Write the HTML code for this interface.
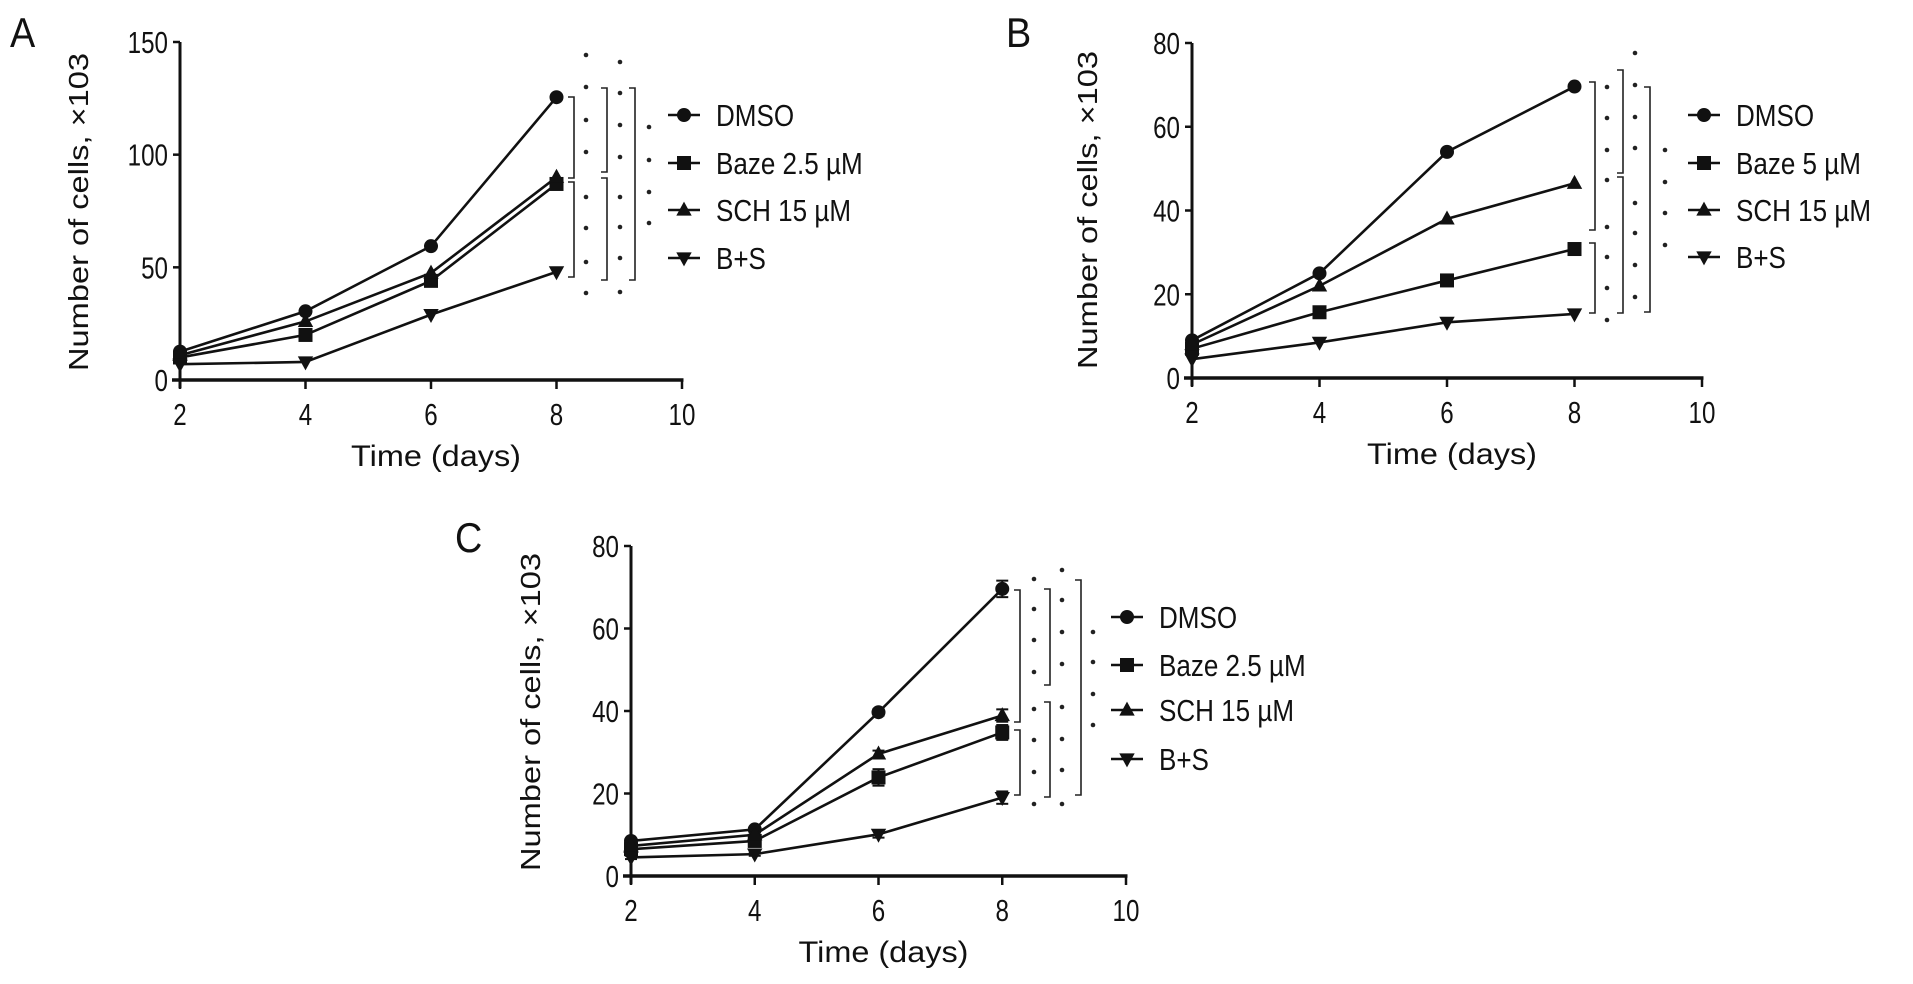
<!DOCTYPE html>
<html><head><meta charset="utf-8"><style>
html,body{margin:0;padding:0;background:#fff;}
svg{display:block;}
text{font-family:"Liberation Sans",Arial,sans-serif;fill:#111;}
</style></head><body>
<svg id="fig" width="1913" height="984" viewBox="0 0 1913 984" xmlns="http://www.w3.org/2000/svg"></svg>
<script>
const days = [2, 4, 6, 8];
const xTicks = [2, 4, 6, 8, 10];
const seriesNames = ["DMSO", "Baze", "SCH", "B+S"];
const markerTypes = ["circle", "square", "triangle-up", "triangle-down"];
// Panel A
const aDMSO = [12.6, 30.5, 59.4, 125.5];
const aBaze = [10, 20, 44, 87];
const aSCH = [11, 26, 47.5, 90];
const aBS = [7, 8, 29, 48];
const aYTicks = [0, 50, 100, 150];
const aLegend = ["DMSO", "Baze 2.5 \u00b5M", "SCH 15 \u00b5M", "B+S"];
// Panel B
const bDMSO = [9, 25, 54, 69.6];
const bBaze = [7, 15.7, 23.3, 30.8];
const bSCH = [8, 22, 38, 46.5];
const bBS = [4.5, 8.5, 13.3, 15.3];
const bYTicks = [0, 20, 40, 60, 80];
const bLegend = ["DMSO", "Baze 5 \u00b5M", "SCH 15 \u00b5M", "B+S"];
// Panel C
const cDMSO = [8.5, 11.3, 39.7, 69.6];
const cBaze = [6.5, 8.5, 23.9, 34.8];
const cSCH = [7.3, 10, 29.6, 38.9];
const cBS = [4.5, 5.3, 10.1, 19];
const cDMSOErr = [0.5, 0.5, 0.8, 2];
const cBazeErr = [0.5, 0.5, 2, 1.8];
const cSCHErr = [0.5, 0.5, 0.8, 1.5];
const cBSErr = [0.4, 0.4, 0.8, 1.5];
const cYTicks = [0, 20, 40, 60, 80];
const cLegend = ["DMSO", "Baze 2.5 \u00b5M", "SCH 15 \u00b5M", "B+S"];

const NS = "http://www.w3.org/2000/svg";
const svg = document.getElementById("fig");
function mk(tag, attrs, parent){
  const e = document.createElementNS(NS, tag);
  for (const k in attrs) e.setAttribute(k, attrs[k]);
  (parent || svg).appendChild(e);
  return e;
}
function txt(parent, x, y, str, size, anchor, sx){
  const t = mk("text", {x: 0, y: 0, "font-size": size, "text-anchor": anchor, transform: `translate(${x},${y}) scale(${sx},1)`}, parent);
  t.textContent = str;
  return t;
}
function marker(g, type, cx, cy, s){
  let e;
  if (type === "circle") e = mk("circle", {cx: cx, cy: cy, r: s}, g);
  else if (type === "square") e = mk("rect", {x: cx - s, y: cy - s, width: 2*s, height: 2*s}, g);
  else if (type === "triangle-up") e = mk("polygon", {points: `${cx},${cy-s*1.2} ${cx-s*1.1},${cy+s*0.8} ${cx+s*1.1},${cy+s*0.8}`}, g);
  else e = mk("polygon", {points: `${cx},${cy+s*1.2} ${cx-s*1.1},${cy-s*0.8} ${cx+s*1.1},${cy-s*0.8}`}, g);
  e.setAttribute("fill", "#111");
  return e;
}

function panel(p){
  const g = mk("g", {});
  
  
  const xs = v => p.x0 + (v - 2) / 8 * (p.x1 - p.x0);
  const ys = v => p.y0 - v / p.yMax * (p.y0 - p.yTop);

  const lab = txt(g, p.labX, p.labY, p.id, 42, "start", 0.9);
  
  

  const yAx = mk("line", {x1: p.x0, y1: p.yTop, x2: p.x0, y2: p.y0 + 8, stroke: "#111", "stroke-width": 3}, g);
  
  
  const xAx = mk("line", {x1: p.x0 - 8, y1: p.y0, x2: p.x1 + 1.5, y2: p.y0, stroke: "#111", "stroke-width": 3.5}, g);
  
  

  p.yTicks.forEach(v => {
    const y = ys(v);
    mk("line", {x1: p.x0 - 7, y1: y, x2: p.x0, y2: y, stroke: "#111", "stroke-width": 2.5}, g);
    const t = txt(g, p.x0 - 12, y + 11, String(v), 31, "end", 0.78);
    
    
  });
  xTicks.forEach(v => {
    const x = xs(v);
    mk("line", {x1: x, y1: p.y0, x2: x, y2: p.y0 + 9, stroke: "#111", "stroke-width": 2.5}, g);
    const t = txt(g, x, p.y0 + 45, String(v), 31, "middle", 0.78);
    
    
  });
  const xt = mk("text", {x: (p.x0 + p.x1) / 2 + 5, y: p.y0 + 86, "font-size": 30, "text-anchor": "middle", textLength: 170, lengthAdjust: "spacingAndGlyphs"}, g);
  xt.textContent = "Time (days)";
  
  
  const yt = mk("text", {x: 0, y: 0, "font-size": 28, "text-anchor": "middle", textLength: 318, lengthAdjust: "spacingAndGlyphs", transform: `translate(${p.ytX},${p.ytY}) rotate(-90)`}, g);
  yt.textContent = "Number of cells, \u00d7103";
  
  

  p.series.forEach((vals, si) => {
    const sg = mk("g", {}, g);
    
    
    const pts = vals.map((v, i) => xs(days[i]) + "," + ys(v)).join(" ");
    const pl = mk("polyline", {points: pts, fill: "none", stroke: "#111", "stroke-width": 2.6}, sg);
    
    
    vals.forEach((v, i) => {
      if (p.errs) {
        const e = p.errs[si][i];
        const x = xs(days[i]);
        mk("line", {x1: x, y1: ys(v + e), x2: x, y2: ys(v - e), stroke: "#111", "stroke-width": 2}, sg);
        mk("line", {x1: x - 6, y1: ys(v + e), x2: x + 6, y2: ys(v + e), stroke: "#111", "stroke-width": 2}, sg);
        mk("line", {x1: x - 6, y1: ys(v - e), x2: x + 6, y2: ys(v - e), stroke: "#111", "stroke-width": 2}, sg);
      }
      const m = marker(sg, markerTypes[si], xs(days[i]), ys(v), 7);
      
      
    });
  });

  p.brackets.forEach(b => {
    const bg = mk("g", {}, g);
    
    
    b.segs.forEach(s => {
      mk("polyline", {points: `${b.x-6},${s[0]} ${b.x},${s[0]} ${b.x},${s[1]} ${b.x-6},${s[1]}`, fill: "none", stroke: "#222", "stroke-width": 1.6}, bg);
    });
    b.ast.forEach(y => {
      mk("circle", {cx: b.ax, cy: y, r: 2.3, fill: "#222"}, bg);
    });
  });

  const lg = mk("g", {}, g);
  
  
  p.legend.forEach((name, i) => {
    const y = p.legY[i];
    const eg = mk("g", {}, lg);
    
    
    mk("line", {x1: p.legX - 16, y1: y, x2: p.legX + 16, y2: y, stroke: "#111", "stroke-width": 2.6}, eg);
    marker(eg, markerTypes[i], p.legX, y, 7);
    txt(eg, p.legX + 32, y + 11, name, 31, "start", 0.84);
  });
}

panel({id: "A", x0: 180, x1: 682, y0: 380, yTop: 42, yMax: 150, yTicks: aYTicks,
  series: [aDMSO, aBaze, aSCH, aBS], legend: aLegend, legX: 684, legY: [115, 163, 210, 258],
  labX: 10, labY: 47, ytX: 88, ytY: 212,
  brackets: [
    {x: 574, segs: [[97, 178], [182, 277]], ax: 586, ast: [55, 87, 120, 152, 197, 228, 262, 293]},
    {x: 607, segs: [[88, 172], [178, 280]], ax: 620, ast: [62, 93, 125, 157, 197, 227, 258, 292]},
    {x: 635, segs: [[88, 280]], ax: 649, ast: [127, 160, 192, 223]}
  ]});
panel({id: "B", x0: 1192, x1: 1702, y0: 378, yTop: 43, yMax: 80, yTicks: bYTicks,
  series: [bDMSO, bBaze, bSCH, bBS], legend: bLegend, legX: 1704, legY: [115, 163, 210, 257],
  labX: 1006, labY: 47, ytX: 1097, ytY: 210,
  brackets: [
    {x: 1595, segs: [[82, 230], [243, 313]], ax: 1607, ast: [87, 118, 150, 180, 227, 257, 288, 320]},
    {x: 1623, segs: [[70, 173], [177, 313]], ax: 1635, ast: [53, 85, 117, 148, 203, 233, 265, 297]},
    {x: 1650, segs: [[87, 312]], ax: 1665, ast: [150, 182, 213, 245]}
  ]});
panel({id: "C", x0: 631, x1: 1126, y0: 876, yTop: 546, yMax: 80, yTicks: cYTicks,
  series: [cDMSO, cBaze, cSCH, cBS], errs: [cDMSOErr, cBazeErr, cSCHErr, cBSErr],
  legend: cLegend, legX: 1127, legY: [617, 665, 710, 759],
  labX: 455, labY: 552, ytX: 540, ytY: 712,
  brackets: [
    {x: 1020, segs: [[590, 722], [730, 795]], ax: 1034, ast: [579, 609, 640, 672, 709, 740, 772, 804]},
    {x: 1050, segs: [[589, 685], [702, 797]], ax: 1062, ast: [570, 600, 632, 664, 707, 739, 770, 804]},
    {x: 1081, segs: [[580, 795]], ax: 1093, ast: [632, 662, 694, 725]}
  ]});
</script>
</body></html>
